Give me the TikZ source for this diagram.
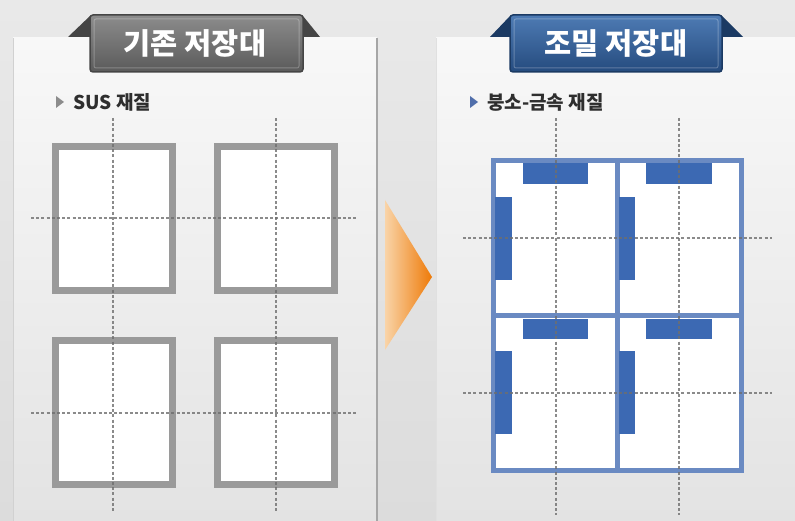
\documentclass[tikz,border=0pt]{standalone}
\usepackage{fontspec}
\newfontfamily\kr{Noto Sans CJK KR}
\definecolor{bgT}{HTML}{E9E9E9}
\definecolor{bgB}{HTML}{DCDCDC}
\definecolor{panelT}{HTML}{F8F8F8}
\definecolor{panelB}{HTML}{E3E3E3}
\definecolor{boxgray}{HTML}{9A9A9A}
\definecolor{dashgray}{HTML}{6E6E6E}
\definecolor{frameblue}{HTML}{6A8AC2}
\definecolor{blockblue}{HTML}{3C69B3}
\definecolor{bnGrayT}{HTML}{8C8C8C}
\definecolor{bnGrayB}{HTML}{5A5A5A}
\definecolor{bnGrayE}{HTML}{454545}
\definecolor{bnBlueT}{HTML}{4E7BB4}
\definecolor{bnBlueB}{HTML}{254B7E}
\definecolor{bnBlueE}{HTML}{1B3A63}
\definecolor{orangeR}{HTML}{EE7A08}
\definecolor{orangeM}{HTML}{F28C24}
\definecolor{orangeL}{HTML}{F9D4A8}
\definecolor{txt}{HTML}{2E2E2E}
\definecolor{markblue}{HTML}{506EAA}
\tikzset{
  graybox/.style={draw=boxgray, line width=7pt, fill=white, minimum width=117pt, minimum height=144pt, inner sep=0pt},
  guide/.style={dashgray, line width=1.9pt, dash pattern=on 3pt off 2.2pt, opacity=0.8},
  bannertext/.style={font=\kr\bfseries\fontsize{29.5}{29.5}\selectfont, text=white, inner sep=0pt},
  labeltext/.style={font=\kr\bfseries\fontsize{19}{19}\selectfont, text=txt, anchor=west, inner sep=0pt},
  block/.style={fill=blockblue}
}
\begin{document}
\begin{tikzpicture}[x=1pt,y=-1pt]
\useasboundingbox (0,0) rectangle (795,521);
% background
\shade[top color=bgT, bottom color=bgB] (0,0) rectangle (795,521);
% panels
\shade[top color=panelT, bottom color=panelB] (13,38) rectangle (377,521);
\draw[line width=0.8pt, draw=black!18] (13,38) -- (13,521);
\draw[line width=2pt, draw=black!35] (377,38) -- (377,521);
\shade[top color=panelT, bottom color=panelB] (436,38) rectangle (795,521);
\draw[line width=1pt, draw=black!12] (436,38) -- (436,521);

% left banner
\fill[bnGrayE] (68,37) -- (90,16) -- (90,37) -- cycle;
\fill[bnGrayE] (303,16) -- (320,37) -- (303,37) -- cycle;
\shade[top color=bnGrayT, bottom color=bnGrayB, rounded corners=3pt, draw=bnGrayE, line width=1.5pt] (90,15) rectangle (303,72);
\draw[draw=white, opacity=0.25, line width=1pt, rounded corners=2pt] (94,19) rectangle (299,68);
\node[bannertext] (bL) at (195,43) {기존 저장대};

% right banner
\fill[bnBlueE] (490,37) -- (510,16) -- (510,37) -- cycle;
\fill[bnBlueE] (722,16) -- (743,37) -- (722,37) -- cycle;
\shade[top color=bnBlueT, bottom color=bnBlueB, rounded corners=3pt, draw=bnBlueE, line width=1.5pt] (510,15) rectangle (722,72);
\draw[draw=white, opacity=0.25, line width=1pt, rounded corners=2pt] (514,19) rectangle (718,68);
\node[bannertext] (bR) at (616,43) {조밀 저장대};

% labels
\fill[black!45] (56,96) -- (64,102) -- (56,108) -- cycle;
\node[labeltext] (lL) at (73,102) {SUS 재질};
\fill[markblue] (470,96) -- (478,102) -- (470,108) -- cycle;
\node[labeltext] (lR) at (487,102) {붕소-금속 재질};

% left boxes
\node[graybox] (b1) at (114,218.5) {};
\node[graybox] (b2) at (275.5,218.5) {};
\node[graybox] (b3) at (114,412.5) {};
\node[graybox] (b4) at (275.5,412.5) {};

% right frame
\draw[frameblue, line width=5pt, fill=white] (493.5,160.5) rectangle (741.5,470.5);
\draw[frameblue, line width=5pt] (617,160.5) -- (617,470.5);
\draw[frameblue, line width=5pt] (493.5,315.5) -- (741.5,315.5);
% blocks
\fill[block] (523,163) rectangle (588,184);
\fill[block] (646,163) rectangle (712,184);
\fill[block] (523,319) rectangle (588,339);
\fill[block] (646,319) rectangle (712,339);
\fill[block] (495,197) rectangle (512,280);
\fill[block] (619,197) rectangle (635,280);
\fill[block] (495,351) rectangle (512,434);
\fill[block] (619,351) rectangle (635,434);

% guides left
\draw[guide] (113,118) -- (113,512);
\draw[guide] (276,118) -- (276,512);
\draw[guide] (31,218) -- (357,218);
\draw[guide] (31,413) -- (357,413);
% guides right
\draw[guide] (556,118) -- (556,515);
\draw[guide] (679,118) -- (679,515);
\draw[guide] (463,238) -- (772,238);
\draw[guide] (463,393) -- (772,393);

% arrow
\shade[left color=orangeL, middle color=orangeM, right color=orangeR] (385,200) -- (432,277) -- (385,350) -- cycle;
\end{tikzpicture}
\end{document}
